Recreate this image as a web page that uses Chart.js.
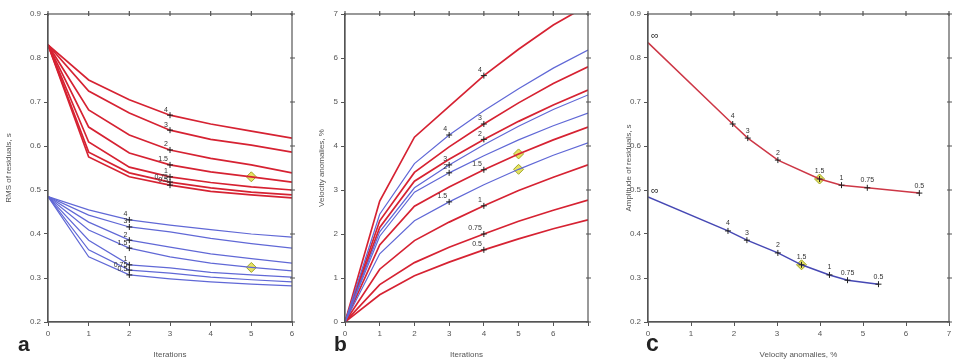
<!DOCTYPE html>
<html>
<head>
<meta charset="utf-8">
<script src="https://cdn.jsdelivr.net/npm/chart.js@4.4.0/dist/chart.umd.min.js"></script>
<style>
body{margin:0;background:#fff;width:955px;height:360px;position:relative;overflow:hidden;font-family:"Liberation Sans",Arial,sans-serif}
.pane{position:absolute;top:0;height:360px}
.letter{position:absolute;font-weight:bold;color:#222;line-height:1}
</style>
</head>
<body>
<div class="pane" style="left:0;width:300px"><canvas id="chartA" width="300" height="360"></canvas></div>
<div class="pane" style="left:305px;width:295px"><canvas id="chartB" width="295" height="360"></canvas></div>
<div class="pane" style="left:600px;width:355px"><canvas id="chartC" width="355" height="360"></canvas></div>
<div class="letter" style="left:18px;top:333px;font-size:21px">a</div>
<div class="letter" style="left:334px;top:333px;font-size:21px">b</div>
<div class="letter" style="left:646px;top:332px;font-size:23px">c</div>
<script>
// panel a: rms of residuals per iteration
var iterA = [0, 1, 2, 3, 4, 5, 6];
var damping = ["4", "3", "2", "1.5", "1", "0.75", "0.5"];

var rmsRed = [
  [0.83, 0.750, 0.705, 0.670, 0.650, 0.634, 0.618],
  [0.83, 0.725, 0.675, 0.636, 0.615, 0.602, 0.586],
  [0.83, 0.682, 0.625, 0.591, 0.572, 0.557, 0.539],
  [0.83, 0.643, 0.584, 0.557, 0.541, 0.530, 0.518],
  [0.83, 0.609, 0.552, 0.530, 0.517, 0.507, 0.500],
  [0.83, 0.586, 0.539, 0.518, 0.505, 0.495, 0.489],
  [0.83, 0.575, 0.530, 0.511, 0.497, 0.489, 0.482]
];
var rmsBlue = [
  [0.485, 0.455, 0.432, 0.420, 0.410, 0.400, 0.393],
  [0.485, 0.443, 0.416, 0.405, 0.390, 0.378, 0.368],
  [0.485, 0.427, 0.386, 0.370, 0.355, 0.344, 0.334],
  [0.485, 0.409, 0.368, 0.348, 0.334, 0.324, 0.316],
  [0.485, 0.386, 0.330, 0.323, 0.313, 0.307, 0.302],
  [0.485, 0.364, 0.318, 0.311, 0.302, 0.296, 0.291],
  [0.485, 0.348, 0.307, 0.298, 0.291, 0.286, 0.282]
];

// panel b: velocity anomalies per iteration
var iterB = [0, 1, 2, 3, 4, 5, 6, 7];
var velRed = [
  [0, 2.75, 4.20, 4.90, 5.60, 6.20, 6.75, 7.20],
  [0, 2.30, 3.40, 3.98, 4.50, 4.98, 5.42, 5.80],
  [0, 2.15, 3.20, 3.70, 4.15, 4.56, 4.93, 5.27],
  [0, 1.75, 2.63, 3.07, 3.46, 3.82, 4.14, 4.43],
  [0, 1.20, 1.85, 2.27, 2.64, 2.99, 3.29, 3.57],
  [0, 0.85, 1.35, 1.70, 2.00, 2.29, 2.54, 2.77],
  [0, 0.62, 1.05, 1.36, 1.64, 1.89, 2.12, 2.32]
];
var velBlue = [
  [0, 2.45, 3.60, 4.25, 4.80, 5.30, 5.77, 6.18],
  [0, 2.05, 3.05, 3.57, 4.03, 4.45, 4.83, 5.16],
  [0, 1.95, 2.95, 3.39, 3.78, 4.14, 4.46, 4.75],
  [0, 1.55, 2.30, 2.73, 3.12, 3.47, 3.79, 4.07]
];
var velBlueTags = ["4", "3", "2", "1.5"];

// panel c: amplitude of residuals vs velocity anomalies
var ampTags = ["\u221e", "4", "3", "2", "1.5", "1", "0.75", "0.5"];
var ampVelRed = [0, 1.97, 2.32, 3.02, 3.99, 4.50, 5.10, 6.31];
var ampRed = [0.835, 0.650, 0.618, 0.568, 0.525, 0.511, 0.505, 0.493];
var ampVelBlue = [0, 1.86, 2.30, 3.02, 3.57, 4.22, 4.64, 5.36];
var ampBlue = [0.484, 0.407, 0.386, 0.357, 0.330, 0.307, 0.295, 0.286];

var RED = "rgb(214,34,50)";
var BLUE = "rgb(96,104,214)";
var FONT = '"Liberation Sans", Arial, sans-serif';

function pts(xs, ys) {
  return xs.map(function (x, i) { return { x: x, y: ys[i] }; });
}
function tagsAt(n, idx, text) {
  var t = [];
  for (var i = 0; i < n; i++) t.push(i === idx ? text : null);
  return t;
}
function radiusAt(n, idx, r) {
  var t = [];
  for (var i = 0; i < n; i++) t.push(i === idx ? r : 0);
  return t;
}
function curve(xs, ys, color, width, markIdx, tag) {
  return {
    data: pts(xs, ys),
    borderColor: color,
    borderWidth: width,
    fill: false,
    tension: 0,
    pointStyle: "cross",
    pointRadius: radiusAt(xs.length, markIdx, 3),
    pointBorderColor: "#222",
    pointBorderWidth: 1,
    tags: tagsAt(xs.length, markIdx, tag),
    tagDx: -2, tagDy: -2, tagAlign: "right"
  };
}
function star(x, y) {
  return {
    data: [{ x: x, y: y }],
    showLine: false,
    pointStyle: "rectRot",
    pointRadius: 5,
    pointBackgroundColor: "rgba(226,222,70,0.85)",
    pointBorderColor: "rgb(160,165,40)",
    pointBorderWidth: 1
  };
}

var tagPlugin = {
  id: "tags",
  afterDatasetsDraw: function (chart) {
    var ctx = chart.ctx;
    chart.data.datasets.forEach(function (ds, di) {
      if (!ds.tags) return;
      var meta = chart.getDatasetMeta(di);
      ctx.save();
      ctx.font = (ds.tagSize || 7) + "px " + FONT;
      ctx.fillStyle = "#333";
      ctx.textAlign = ds.tagAlign || "center";
      ctx.textBaseline = "bottom";
      ds.tags.forEach(function (t, i) {
        if (!t) return;
        var el = meta.data[i];
        ctx.fillText(t, el.x + (ds.tagDx || 0), el.y + (ds.tagDy || 0));
      });
      ctx.restore();
    });
  }
};

var framePlugin = {
  id: "frame",
  afterDraw: function (chart) {
    var a = chart.chartArea, ctx = chart.ctx;
    var sx = chart.scales.x, sy = chart.scales.y;
    ctx.save();
    ctx.strokeStyle = "#555";
    ctx.lineWidth = 1.2;
    ctx.strokeRect(a.left, a.top, a.right - a.left, a.bottom - a.top);
    ctx.beginPath();
    sx.ticks.forEach(function (t) {
      var x = sx.getPixelForValue(t.value);
      ctx.moveTo(x, a.top - 3); ctx.lineTo(x, a.top + 2);
    });
    sy.ticks.forEach(function (t) {
      var y = sy.getPixelForValue(t.value);
      ctx.moveTo(a.right - 2, y); ctx.lineTo(a.right + 3, y);
    });
    ctx.stroke();
    ctx.restore();
  }
};

function axes(xmin, xmax, ymin, ymax, ystep, xtitle, ytitle, ywidth, ytitlePad, hideLastX) {
  return {
    x: {
      type: "linear", min: xmin, max: xmax,
      afterFit: function (s) { s.height = 38; },
      border: { color: "#555", width: 1.2 },
      grid: { drawOnChartArea: false, tickLength: 4, color: "#555" },
      ticks: {
        stepSize: 1, padding: 3, color: "#555", font: { size: 8, family: FONT },
        callback: function (v) { return (hideLastX && v === xmax) ? "" : v; }
      },
      title: { display: true, text: xtitle, color: "#555", font: { size: 8, family: FONT }, padding: { top: 4, bottom: 0 } }
    },
    y: {
      type: "linear", min: ymin, max: ymax,
      afterFit: function (s) { s.width = ywidth; },
      border: { color: "#555", width: 1.2 },
      grid: { drawOnChartArea: false, tickLength: 4, color: "#555" },
      ticks: {
        stepSize: ystep, padding: 3, color: "#555", font: { size: 8, family: FONT },
        callback: function (v) { return ystep < 1 ? v.toFixed(1) : v; }
      },
      title: { display: true, text: ytitle, color: "#555", font: { size: 8, family: FONT }, padding: { top: ytitlePad, bottom: 0 } }
    }
  };
}

function common(scales, pad) {
  return {
    responsive: false,
    animation: false,
    layout: { padding: pad },
    plugins: { legend: { display: false }, tooltip: { enabled: false } },
    scales: scales
  };
}

// panel a
var dsA = [];
rmsBlue.forEach(function (ys, i) { dsA.push(curve(iterA, ys, BLUE, 1.2, 2, damping[i])); });
rmsRed.forEach(function (ys, i) { dsA.push(curve(iterA, ys, RED, 1.7, 3, damping[i])); });
dsA.push(star(iterA[5], rmsRed[3][5]));
dsA.push(star(iterA[5], rmsBlue[3][5]));
new Chart(document.getElementById("chartA"), {
  type: "line",
  data: { datasets: dsA },
  options: common(axes(0, 6, 0.2, 0.9, 0.1, "Iterations", "RMS of residuals, s", 48, 4, false),
    { top: 14, right: 8, left: 0, bottom: 0 }),
  plugins: [tagPlugin, framePlugin]
});

// panel b
var dsB = [];
velBlue.forEach(function (ys, i) { dsB.push(curve(iterB, ys, BLUE, 1.2, 3, velBlueTags[i])); });
velRed.forEach(function (ys, i) { dsB.push(curve(iterB, ys, RED, 1.7, 4, damping[i])); });
dsB.push(star(iterB[5], velRed[3][5]));
dsB.push(star(iterB[5], velBlue[3][5]));
new Chart(document.getElementById("chartB"), {
  type: "line",
  data: { datasets: dsB },
  options: common(axes(0, 7, 0, 7, 1, "Iterations", "Velocity anomalies, %", 40, 12, true),
    { top: 14, right: 12, left: 0, bottom: 0 }),
  plugins: [tagPlugin, framePlugin]
});

// panel c
function ampLine(xs, ys, color) {
  return {
    data: pts(xs, ys),
    borderColor: color,
    borderWidth: 1.5,
    fill: false,
    tension: 0,
    pointStyle: "cross",
    pointRadius: ys.map(function (v, i) { return i === 0 ? 0 : 3; }),
    pointBorderColor: "#222",
    pointBorderWidth: 1,
    tags: ampTags.map(function (t, i) { return i === 0 ? null : t; }),
    tagDx: 0, tagDy: -4, tagAlign: "center"
  };
}
function infTag(x, y) {
  return { data: [{ x: x, y: y }], showLine: false, pointRadius: 0,
    tags: [ampTags[0]], tagSize: 11, tagDx: 3, tagDy: -1, tagAlign: "left" };
}
var dsC = [
  ampLine(ampVelRed, ampRed, "rgb(205,55,70)"),
  ampLine(ampVelBlue, ampBlue, "rgb(70,72,180)"),
  star(ampVelRed[4], ampRed[4]),
  star(ampVelBlue[4], ampBlue[4]),
  infTag(ampVelRed[0], ampRed[0]),
  infTag(ampVelBlue[0], ampBlue[0])
];
new Chart(document.getElementById("chartC"), {
  type: "line",
  data: { datasets: dsC },
  options: common(axes(0, 7, 0.2, 0.9, 0.1, "Velocity anomalies, %", "Amplitude of residuals, s", 48, 24, false),
    { top: 14, right: 5, left: 0, bottom: 0 }),
  plugins: [tagPlugin, framePlugin]
});
</script>
</body>
</html>
